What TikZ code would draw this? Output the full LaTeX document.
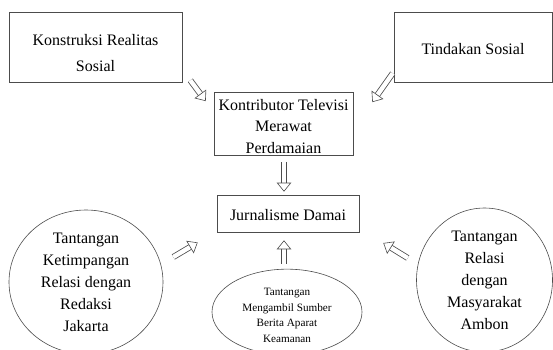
\documentclass[tikz,border=0pt]{standalone}
\usepackage{fontspec}
\setmainfont{Liberation Serif}
\usetikzlibrary{arrows.meta, calc, shapes.geometric}

\begin{document}
\begin{tikzpicture}[x=1pt, y=-1pt,
  kotak/.style = {draw=black!70, line width=0.6pt, align=center, inner sep=2pt},
  bulat/.style = {draw=black!70, line width=0.6pt, ellipse, align=center, inner sep=0pt},
  hollow/.style = {draw=black!70, double=white, double distance=4.4pt, line width=0.8pt,
    -{Triangle[open, length=9pt, width=14.5pt, line width=0.6pt]}}]
\useasboundingbox (0,0) rectangle (553,349);
\node[kotak, minimum width=173pt, minimum height=70pt, font=\fontsize{16}{26}\selectfont](kra) at (95.5,47){\rule{0pt}{23pt}Konstruksi Realitas\\ Sosial};
\node[kotak, minimum width=158pt, minimum height=70pt, font=\fontsize{16}{22}\selectfont](ts) at (473,47){\rule{0pt}{16pt}Tindakan Sosial};
\node[kotak, minimum width=139pt, minimum height=62pt, font=\fontsize{16}{21.5}\selectfont](ktmp) at (283.5,124){\rule{0pt}{16pt}Kontributor Televisi\\ Merawat\\ Perdamaian};
\node[kotak, minimum width=142pt, minimum height=37pt, font=\fontsize{16}{22}\selectfont](jd) at (288,213.5){\rule{0pt}{14pt}Jurnalisme Damai};
\node[bulat, minimum width=154pt, minimum height=144pt, font=\fontsize{16}{22}\selectfont](tkr) at (86,282){Tantangan\\ Ketimpangan\\ Relasi dengan\\ Redaksi\\ Jakarta};
\node[bulat, minimum width=136pt, minimum height=144pt, font=\fontsize{16}{22}\selectfont](trm) at (484.5,280){Tantangan\\ Relasi\\ dengan\\ Masyarakat\\ Ambon};
\node[bulat, minimum width=150pt, minimum height=74pt, font=\fontsize{11.2}{15.5}\selectfont](tms) at (287,312){\rule{0pt}{14pt}Tantangan\\ Mengambil Sumber\\ Berita Aparat\\ Keamanan};
\draw[hollow] ($(kra.south east)+(8,-2)$) -- ($(ktmp.north west)+(-8,9)$);
\draw[hollow] ($(ts.south west)+(-1,-9)$) -- ($(ktmp.north east)+(19,10)$);
\draw[hollow] ($(ktmp.south)+(0.5,6)$) -- ($(ktmp.south |- jd.north)+(0.5,-3)$);
\draw[hollow] ($(tms.north -| ktmp.south)+(0.5,-5)$) -- ($(ktmp.south |- jd.south)+(0.5,8)$);
\draw[hollow] ($(tkr.east)+(10,-25)$) -- ($(jd.west)+(-19,29)$);
\draw[hollow] ($(trm.west)+(-8.5,-22)$) -- ($(jd.east)+(24,29.5)$);
\end{tikzpicture}
\end{document}
